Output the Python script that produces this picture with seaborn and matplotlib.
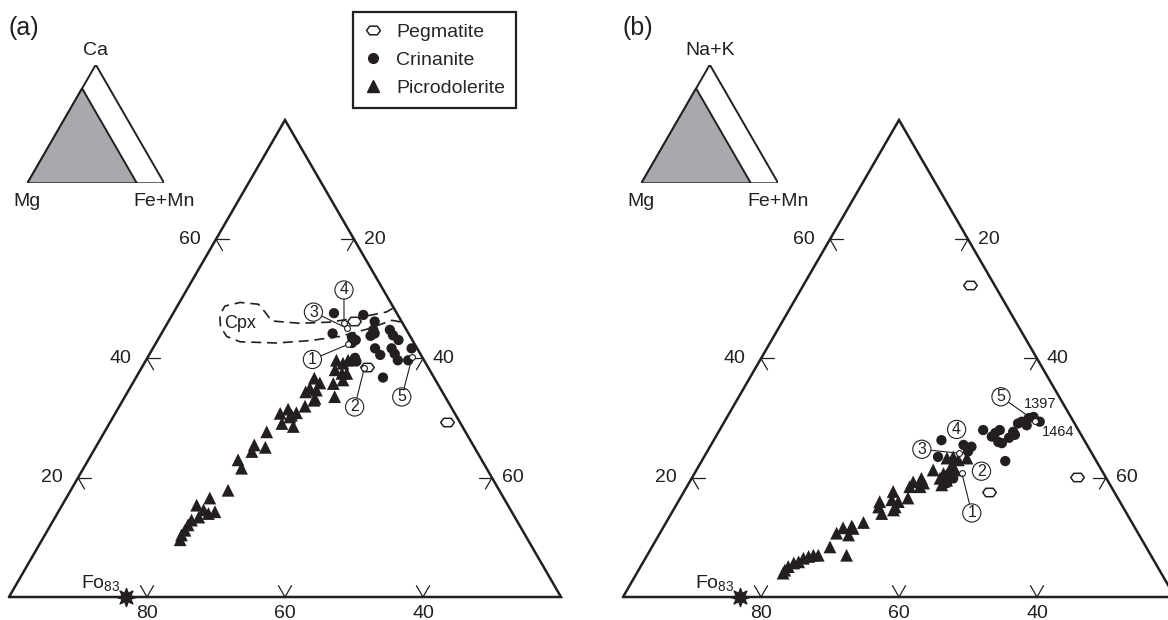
import numpy as np
import pandas as pd
import matplotlib
matplotlib.use("Agg")
import matplotlib.pyplot as plt
import seaborn as sns
from matplotlib.lines import Line2D
from matplotlib.path import Path

# ---------------- data (mole %) --------------------------------------#
# panel (a): Ca - Mg - (Fe+Mn), each point stored as (Ca, Fe+Mn)
a_crin_ca = [47.6, 47.3, 44.2, 43.6, 43.1, 42.6, 46.2, 44.8, 44.2, 43.8, 44.8, 43.9,
             43.1, 41.7, 40.6, 41.7, 40.8, 39.7, 41.7, 39.7, 36.8, 40.1, 39.5]
a_crin_fe = [23.3, 27.7, 24.8, 27.9, 28.7, 28.4, 29.9, 30.4, 30.9, 30.5, 32.8, 33.7,
             34.9, 32.2, 33.5, 34.6, 35.5, 36.5, 37.5, 38.0, 35.8, 30.1, 30.6]
a_picro_ca = [36.7, 34.4, 34.7, 33.0, 32.0, 30.8, 31.5, 30.5, 30.9, 28.6, 29.1, 27.7,
              25.5, 24.4, 25.1, 23.0, 21.6, 17.9, 39.7, 39.2, 38.1, 37.5, 35.8, 36.4,
              33.6, 39.7, 37.5, 30.2, 15.4, 16.6, 14.6, 14.3, 14.0, 12.9, 12.1, 11.2,
              10.4, 9.6, 35.0, 33.3, 35.9, 13.4]
a_picro_fe = [25.9, 25.8, 27.2, 27.7, 26.9, 23.9, 24.7, 25.7, 26.2, 26.9, 25.0, 23.5,
              22.8, 23.0, 24.6, 21.7, 22.9, 22.8, 27.6, 28.8, 28.2, 29.5, 29.1, 30.2,
              30.4, 29.3, 30.2, 25.6, 19.5, 20.8, 20.9, 22.7, 21.9, 20.0, 19.9, 19.9,
              19.8, 20.0, 26.1, 27.7, 27.1, 20.8]
a_pegm_ca = [46.3, 38.5, 29.3]
a_pegm_fe = [26.9, 32.7, 48.8]
# numbered analyses (small open circles) and where their circled labels sit
a_num_ca = [42.4, 38.4, 45.1, 45.9, 40.3]
a_num_fe = [28.0, 32.3, 26.4, 25.6, 38.3]
a_num_lab = ["1", "2", "3", "4", "5"]
a_num_off = [(-26, -11), (-7, -28), (-24, 11.5), (0, 24), (-7.6, -29)]
# clinopyroxene field outline
cpx_ca = [48.4, 47.8, 46.9, 46.1, 45.9, 46.3, 47.8, 49.1, 49.4, 48.8, 47.3, 45.3,
          43.7, 42.8, 42.6, 43.0, 43.7, 44.9, 46.4, 46.1]
cpx_fe = [31.4, 30.8, 27.4, 23.5, 19.2, 14.9, 13.2, 11.6, 8.8, 6.9, 6.9, 8.0,
          9.7, 12.1, 17.5, 22.1, 26.1, 29.4, 32.3, 33.9]

# panel (b): (Na+K) - Mg - (Fe+Mn), each point stored as (Na+K, Fe+Mn)
b_crin_nak = [26.3, 23.5, 25.5, 25.2, 24.4, 28.0, 27.5, 28.0, 26.9, 26.0, 25.8, 27.7,
              29.1, 29.4, 28.8, 27.2, 30.2, 29.4, 22.8, 20.7, 19.9, 19.1, 26.7, 30.0]
b_crin_fe = [33.0, 33.9, 36.6, 37.9, 37.8, 38.2, 40.2, 40.6, 40.0, 41.4, 42.0, 42.7,
             42.7, 43.1, 44.1, 43.2, 44.4, 45.7, 44.0, 37.0, 37.9, 37.4, 42.6, 43.8]
b_picro_nak = [23.3, 23.5, 23.0, 23.3, 22.1, 21.3, 20.7, 19.9, 19.6, 18.8, 20.2, 19.9,
               19.1, 19.3, 18.5, 18.5, 17.7, 16.3, 16.0, 16.6, 15.1, 16.0, 15.1, 14.0,
               14.6, 12.5, 11.9, 11.6, 11.5, 10.7, 10.4, 8.4, 7.0, 7.0, 7.0, 6.8,
               6.5, 5.9, 5.7, 5.1, 4.5, 4.0, 21.3]
b_picro_fe = [35.3, 36.1, 37.1, 38.2, 36.6, 37.5, 36.1, 36.0, 37.1, 36.8, 37.3, 33.3,
              34.0, 32.4, 32.3, 33.8, 30.3, 30.8, 31.9, 33.0, 31.9, 29.2, 29.5, 30.5,
              31.9, 28.6, 27.2, 26.1, 27.6, 25.6, 27.5, 25.8, 28.9, 24.8, 24.1, 23.5,
              22.9, 22.5, 21.9, 21.4, 21.2, 21.2, 34.3]
b_pegm_nak = [52.3, 20.1, 17.6]
b_pegm_fe = [24.1, 55.7, 44.2]
b_num_nak = [20.8, 24.1, 29.5]
b_num_fe = [38.7, 36.7, 45.0]
b_num_lab = ["1", "3", "5"]
b_num_off = [(7.2, -28.8), (-27, 2.9), (-24.7, 17.5)]
b_free_lab = ["2", "4"]          # circled numbers without leader line
b_free_nak = [21.1, 28.1]
b_free_fe = [41.4, 34.3]
b_text = ["1397", "1464"]
b_text_nak = [32.3, 27.6]
b_text_fe = [44.3, 49.2]

fo_fe = 17                         # Fo83 on the Mg-(Fe+Mn) join
base_ticks = [80, 60, 40]          # Mg
side_ticks = [20, 40, 60]          # top component (left) and Fe+Mn (right)

INK = "#231f20"
GREY = "#a7a9ac"
S3 = np.sqrt(3) / 2


def to_xy(top, fe):
    # ternary -> cartesian, Mg corner at the origin, 1 unit = 1 %
    top = np.asarray(top, float)
    fe = np.asarray(fe, float)
    return fe + top / 2, top * S3


# ---------- tidy dataframe for seaborn ---------- #
frames = []
for panel, rock, top, fe in [
        ("a", "Picrodolerite", a_picro_ca, a_picro_fe),
        ("a", "Crinanite", a_crin_ca, a_crin_fe),
        ("a", "Pegmatite", a_pegm_ca, a_pegm_fe),
        ("b", "Picrodolerite", b_picro_nak, b_picro_fe),
        ("b", "Crinanite", b_crin_nak, b_crin_fe),
        ("b", "Pegmatite", b_pegm_nak, b_pegm_fe)]:
    x, y = to_xy(top, fe)
    frames.append(pd.DataFrame({"panel": panel, "rock": rock, "x": x, "y": y}))
df = pd.concat(frames, ignore_index=True)

hexv = [(-1, 0), (-0.55, 0.62), (0.55, 0.62), (1, 0), (0.55, -0.62), (-0.55, -0.62), (-1, 0)]
HEX = Path(hexv, [Path.MOVETO] + [Path.LINETO] * 5 + [Path.CLOSEPOLY])

style = {
    "Picrodolerite": dict(marker="^", s=85, color=INK, edgecolor="none", zorder=3),
    "Crinanite": dict(marker="o", s=55, color=INK, edgecolor="none", zorder=3),
    "Pegmatite": dict(marker=HEX, s=95, color="white", edgecolor=INK, linewidth=1.1, zorder=4),
}

sns.set_style("white")
plt.rcParams["font.family"] = ["Liberation Sans", "DejaVu Sans"]
plt.rcParams["mathtext.fontset"] = "custom"
plt.rcParams["mathtext.rm"] = "Liberation Sans"
plt.rcParams["mathtext.it"] = "Liberation Sans:italic"

W, H = 1168, 620
fig = plt.figure(figsize=(W / 100, H / 100), dpi=100)
PX = 6.9          # pixels per % horizontally
PY = 6.885        # pixels per % vertically
BASE = 597        # pixel row of the base line


def frame(ax, ax_left, vertex_px, top_name, shift):
    # outline, ticks, labels of one ternary panel
    cx, cy = to_xy([0, 0, 80, 0], [0, 80, 0, 0])
    ax.plot(cx, cy, color=INK, lw=1.8, solid_joinstyle="miter", zorder=2)
    L = 1.9
    for v in base_ticks:
        x0, y0 = to_xy(0, 100 - v)
        for dx, dy in [(-0.5, S3), (0.5, S3)]:
            ax.plot([x0, x0 + L * dx], [y0, y0 + L * dy], color=INK, lw=0.9)
        ax.annotate(str(v), (x0, y0), xytext=(0, -6), textcoords="offset points",
                    ha="center", va="top", fontsize=14, color=INK)
    for v in side_ticks:
        x0, y0 = to_xy(v, 0)
        for dx, dy in [(1, 0), (0.5, -S3)]:
            ax.plot([x0, x0 + L * dx], [y0, y0 + L * dy], color=INK, lw=0.9)
        ax.annotate(str(v), (x0, y0), xytext=(-11, 0), textcoords="offset points",
                    ha="right", va="center", fontsize=14, color=INK)
        x0, y0 = to_xy(80 - v, v)
        for dx, dy in [(-1, 0), (-0.5, -S3)]:
            ax.plot([x0, x0 + L * dx], [y0, y0 + L * dy], color=INK, lw=0.9)
        ax.annotate(str(v), (x0, y0), xytext=(7, 0), textcoords="offset points",
                    ha="left", va="center", fontsize=14, color=INK)

    # Fo83
    fx, fy = to_xy(0, fo_fe)
    ax.scatter(fx, fy, marker=(8, 1, 0), s=170, color=INK, zorder=5, clip_on=False)
    ax.annotate(r"Fo$_\mathrm{83}$", (fx, fy), xytext=(-4, 3), textcoords="offset points",
                ha="right", va="bottom", fontsize=14, color=INK)

    off = vertex_px - ax_left
    ax.set_xlim(-off / PX, (W / 2 - off) / PX)
    ax.set_ylim(-(H - BASE) / PY, BASE / PY)
    ax.axis("off")

    # small composition triangle
    ins = fig.add_axes([(27.3 + shift) / W, (H - 183.3) / H, 137 / W, 118.6 / H])
    ox, oy = to_xy([0, 0, 100, 0], [0, 100, 0, 0])
    gx, gy = to_xy([0, 0, 80, 0], [0, 80, 0, 0])
    ins.fill(ox, oy, facecolor="white", edgecolor=INK, lw=1.4)
    ins.fill(gx, gy, facecolor=GREY, edgecolor=INK, lw=1.4)
    ins.set_xlim(0, 100)
    ins.set_ylim(0, 100 * S3)
    ins.axis("off")
    ins.annotate(top_name, (50, 100 * S3), xytext=(0, 10), textcoords="offset points",
                 ha="center", va="center", fontsize=14, color=INK, annotation_clip=False)
    ins.annotate("Mg", (0, 0), xytext=(0, -13), textcoords="offset points",
                 ha="center", va="center", fontsize=14, color=INK, annotation_clip=False)
    ins.annotate("Fe+Mn", (100, 0), xytext=(0, -13), textcoords="offset points",
                 ha="center", va="center", fontsize=14, color=INK, annotation_clip=False)


def circled(ax, lab, xy, off=None, arrow=True):
    kw = dict(ha="center", va="center", fontsize=11.5, color=INK,
              bbox=dict(boxstyle="circle,pad=0.1", fc="white", ec=INK, lw=0.8))
    if arrow:
        ax.annotate(lab, xy, xytext=off, textcoords="offset points",
                    arrowprops=dict(arrowstyle="-", color=INK, lw=0.8, shrinkA=0, shrinkB=2),
                    zorder=6, **kw)
    else:
        ax.text(xy[0], xy[1], lab, zorder=6, **kw)


axes = {"a": fig.add_axes([0, 0, 0.5, 1]), "b": fig.add_axes([0.5, 0, 0.5, 1])}
for p, ax in axes.items():
    for rock in ["Picrodolerite", "Crinanite", "Pegmatite"]:
        sub = df[(df.panel == p) & (df.rock == rock)]
        sns.scatterplot(data=sub, x="x", y="y", ax=ax, legend=False, **style[rock])

frame(axes["a"], 0, 9, "Ca", 0)
frame(axes["b"], W / 2, 623, "Na+K", 614)

# ---- panel (a) extras ----
ax = axes["a"]
cx, cy = to_xy(cpx_ca, cpx_fe)
ax.plot(cx, cy, color=INK, lw=1.2, ls=(0, (6, 3.5)), zorder=2)
tx, ty = to_xy(45.9, 10.5)
ax.text(tx, ty, "Cpx", ha="center", va="center", fontsize=13, color=INK)
nx, ny = to_xy(a_num_ca, a_num_fe)
sns.scatterplot(x=nx, y=ny, ax=ax, marker="o", s=18, color="white", edgecolor=INK,
                linewidth=0.8, zorder=6, legend=False)
for lab, x, y, off in zip(a_num_lab, nx, ny, a_num_off):
    circled(ax, lab, (x, y), off)

# ---- panel (b) extras ----
ax = axes["b"]
nx, ny = to_xy(b_num_nak, b_num_fe)
sns.scatterplot(x=nx, y=ny, ax=ax, marker="o", s=18, color="white", edgecolor=INK,
                linewidth=0.8, zorder=6, legend=False)
for lab, x, y, off in zip(b_num_lab, nx, ny, b_num_off):
    circled(ax, lab, (x, y), off)
fx, fy = to_xy(b_free_nak, b_free_fe)
for lab, x, y in zip(b_free_lab, fx, fy):
    circled(ax, lab, (x, y), arrow=False)
tx, ty = to_xy(b_text_nak, b_text_fe)
for lab, x, y in zip(b_text, tx, ty):
    ax.text(x, y, lab, ha="center", va="center", fontsize=10.5, color=INK)

fig.text(8 / W, 1 - 28 / H, "(a)", ha="left", va="center", fontsize=18, color=INK)
fig.text(622 / W, 1 - 28 / H, "(b)", ha="left", va="center", fontsize=18, color=INK)

handles = [
    Line2D([], [], ls="none", marker=HEX, markersize=10, markerfacecolor="white",
           markeredgecolor=INK, markeredgewidth=1.1),
    Line2D([], [], ls="none", marker="o", markersize=7, color=INK),
    Line2D([], [], ls="none", marker="^", markersize=8.5, color=INK),
]
leg = fig.legend(handles, ["Pegmatite", "Crinanite", "Picrodolerite"],
                 loc="upper left", bbox_to_anchor=(352.7 / W, 1 - 12.3 / H),
                 frameon=True, fancybox=False, edgecolor=INK, framealpha=1,
                 fontsize=14, borderpad=0.55, handlelength=1.0, handletextpad=0.7,
                 labelspacing=0.55, borderaxespad=0)
leg.get_frame().set_linewidth(1.6)

plt.savefig("out.png", dpi=100)
